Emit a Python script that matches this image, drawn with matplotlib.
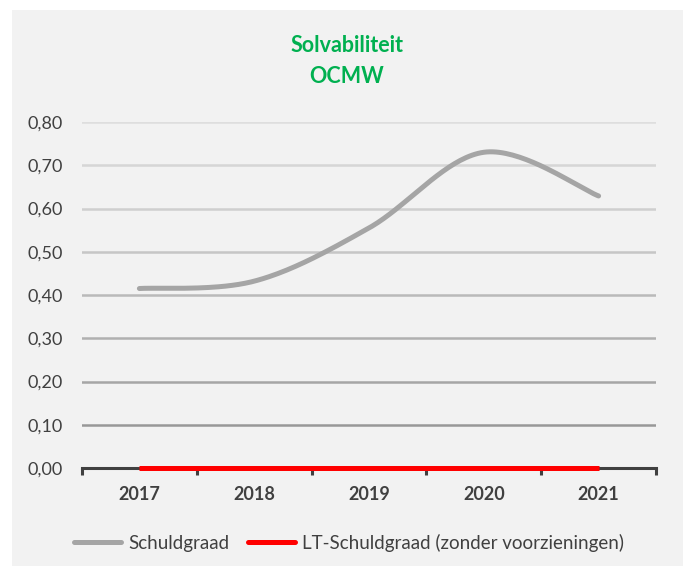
import numpy as np
import matplotlib.pyplot as plt
from matplotlib.patches import Rectangle
from matplotlib.lines import Line2D

plt.rcParams['font.family'] = ['Lato', 'DejaVu Sans']

jaren = ['2017', '2018', '2019', '2020', '2021']
schuldgraad = [0.415, 0.432, 0.555, 0.730, 0.629]
lt_schuldgraad = [0.0, 0.0, 0.0, 0.0, 0.0]
y_ticks = [0.0, 0.1, 0.2, 0.3, 0.4, 0.5, 0.6, 0.7, 0.8]


def smooth(x, y, n=40):
    # Catmull-Rom curve door de punten (zoals een vloeiende lijn in Excel)
    x = np.asarray(x, float)
    y = np.asarray(y, float)
    px = np.concatenate([[x[0]], x, [x[-1]]])
    py = np.concatenate([[y[0]], y, [y[-1]]])
    xs, ys = [], []
    for i in range(1, len(px) - 2):
        p0, p1, p2, p3 = px[i - 1], px[i], px[i + 1], px[i + 2]
        q0, q1, q2, q3 = py[i - 1], py[i], py[i + 1], py[i + 2]
        c1x, c1y = p1 + (p2 - p0) / 6, q1 + (q2 - q0) / 6
        c2x, c2y = p2 - (p3 - p1) / 6, q2 - (q3 - q1) / 6
        t = np.linspace(0, 1, n)
        b0, b1, b2, b3 = (1 - t) ** 3, 3 * t * (1 - t) ** 2, 3 * t ** 2 * (1 - t), t ** 3
        xs.append(b0 * p1 + b1 * c1x + b2 * c2x + b3 * p2)
        ys.append(b0 * q1 + b1 * c1y + b2 * c2y + b3 * q2)
    return np.concatenate(xs), np.concatenate(ys)


fig = plt.figure(figsize=(6.83, 5.66), dpi=100)
fig.patch.set_facecolor('white')
fig.patches.append(Rectangle((12 / 683, 0.0), 1, 1 - 10 / 566, transform=fig.transFigure,
                             facecolor='#f2f2f2', edgecolor='none', zorder=-10))

ax = fig.add_axes([82 / 683, 1 - 468 / 566, (656 - 82) / 683, (468 - 122) / 566])
ax.set_facecolor('none')

x = np.arange(len(jaren))

# rasterlijnen, naar onder toe donkerder
kleuren = ['#dedede', '#d6d6d6', '#cfcfcf', '#c6c6c6', '#bababa', '#b0b0b0', '#a6a6a6', '#989898']
for val, kl in zip(y_ticks[::-1][:-1], kleuren):
    ax.axhline(val, color=kl, lw=1.8, zorder=1)

sx, sy = smooth(x, schuldgraad)
ax.plot(sx, sy, color='#a5a5a5', lw=3.6, solid_capstyle='round', zorder=3)
ax.plot(x, lt_schuldgraad, color='#ff0000', lw=3.6, solid_capstyle='butt', zorder=4,
        clip_on=False)

ax.set_xlim(-0.5, len(jaren) - 0.5)
ax.set_ylim(0, 0.8)
ax.set_yticks(y_ticks)
ax.set_yticklabels([f'{v:.2f}'.replace('.', ',') for v in y_ticks], fontsize=13, color='#404040')
ax.tick_params(axis='y', length=0, pad=14)

ax.set_xticks(x)
ax.set_xticklabels(jaren, fontsize=13, fontweight='bold', color='#404040')
ax.set_xticks(np.arange(-0.5, len(jaren)), minor=True)
ax.tick_params(axis='x', which='major', length=0, pad=13)
ax.tick_params(axis='x', which='minor', length=5, width=2.2, color='#404040', direction='out')

for s in ['left', 'right', 'top']:
    ax.spines[s].set_visible(False)
ax.spines['bottom'].set_color('#404040')
ax.spines['bottom'].set_linewidth(2.2)
ax.spines['bottom'].set_zorder(2)

fig.text(347 / 683, 1 - 46 / 566, 'Solvabiliteit', ha='center', va='center',
         fontsize=15.5, fontweight='bold', color='#00b050')
fig.text(347 / 683, 1 - 76 / 566, 'OCMW', ha='center', va='center',
         fontsize=15.5, fontweight='bold', color='#00b050')

handles = [Line2D([], [], color='#a5a5a5', lw=3.6, solid_capstyle='round'),
           Line2D([], [], color='#ff0000', lw=3.6, solid_capstyle='round')]
fig.legend(handles, ['Schuldgraad', 'LT-Schuldgraad (zonder voorzieningen)'],
           loc='center', bbox_to_anchor=(349 / 683, 1 - 543 / 566), ncol=2, frameon=False,
           fontsize=13.5, handlelength=2.5, columnspacing=1.0, handletextpad=0.4,
           labelcolor='#404040')

fig.savefig('out.png', dpi=100, facecolor=fig.get_facecolor())
